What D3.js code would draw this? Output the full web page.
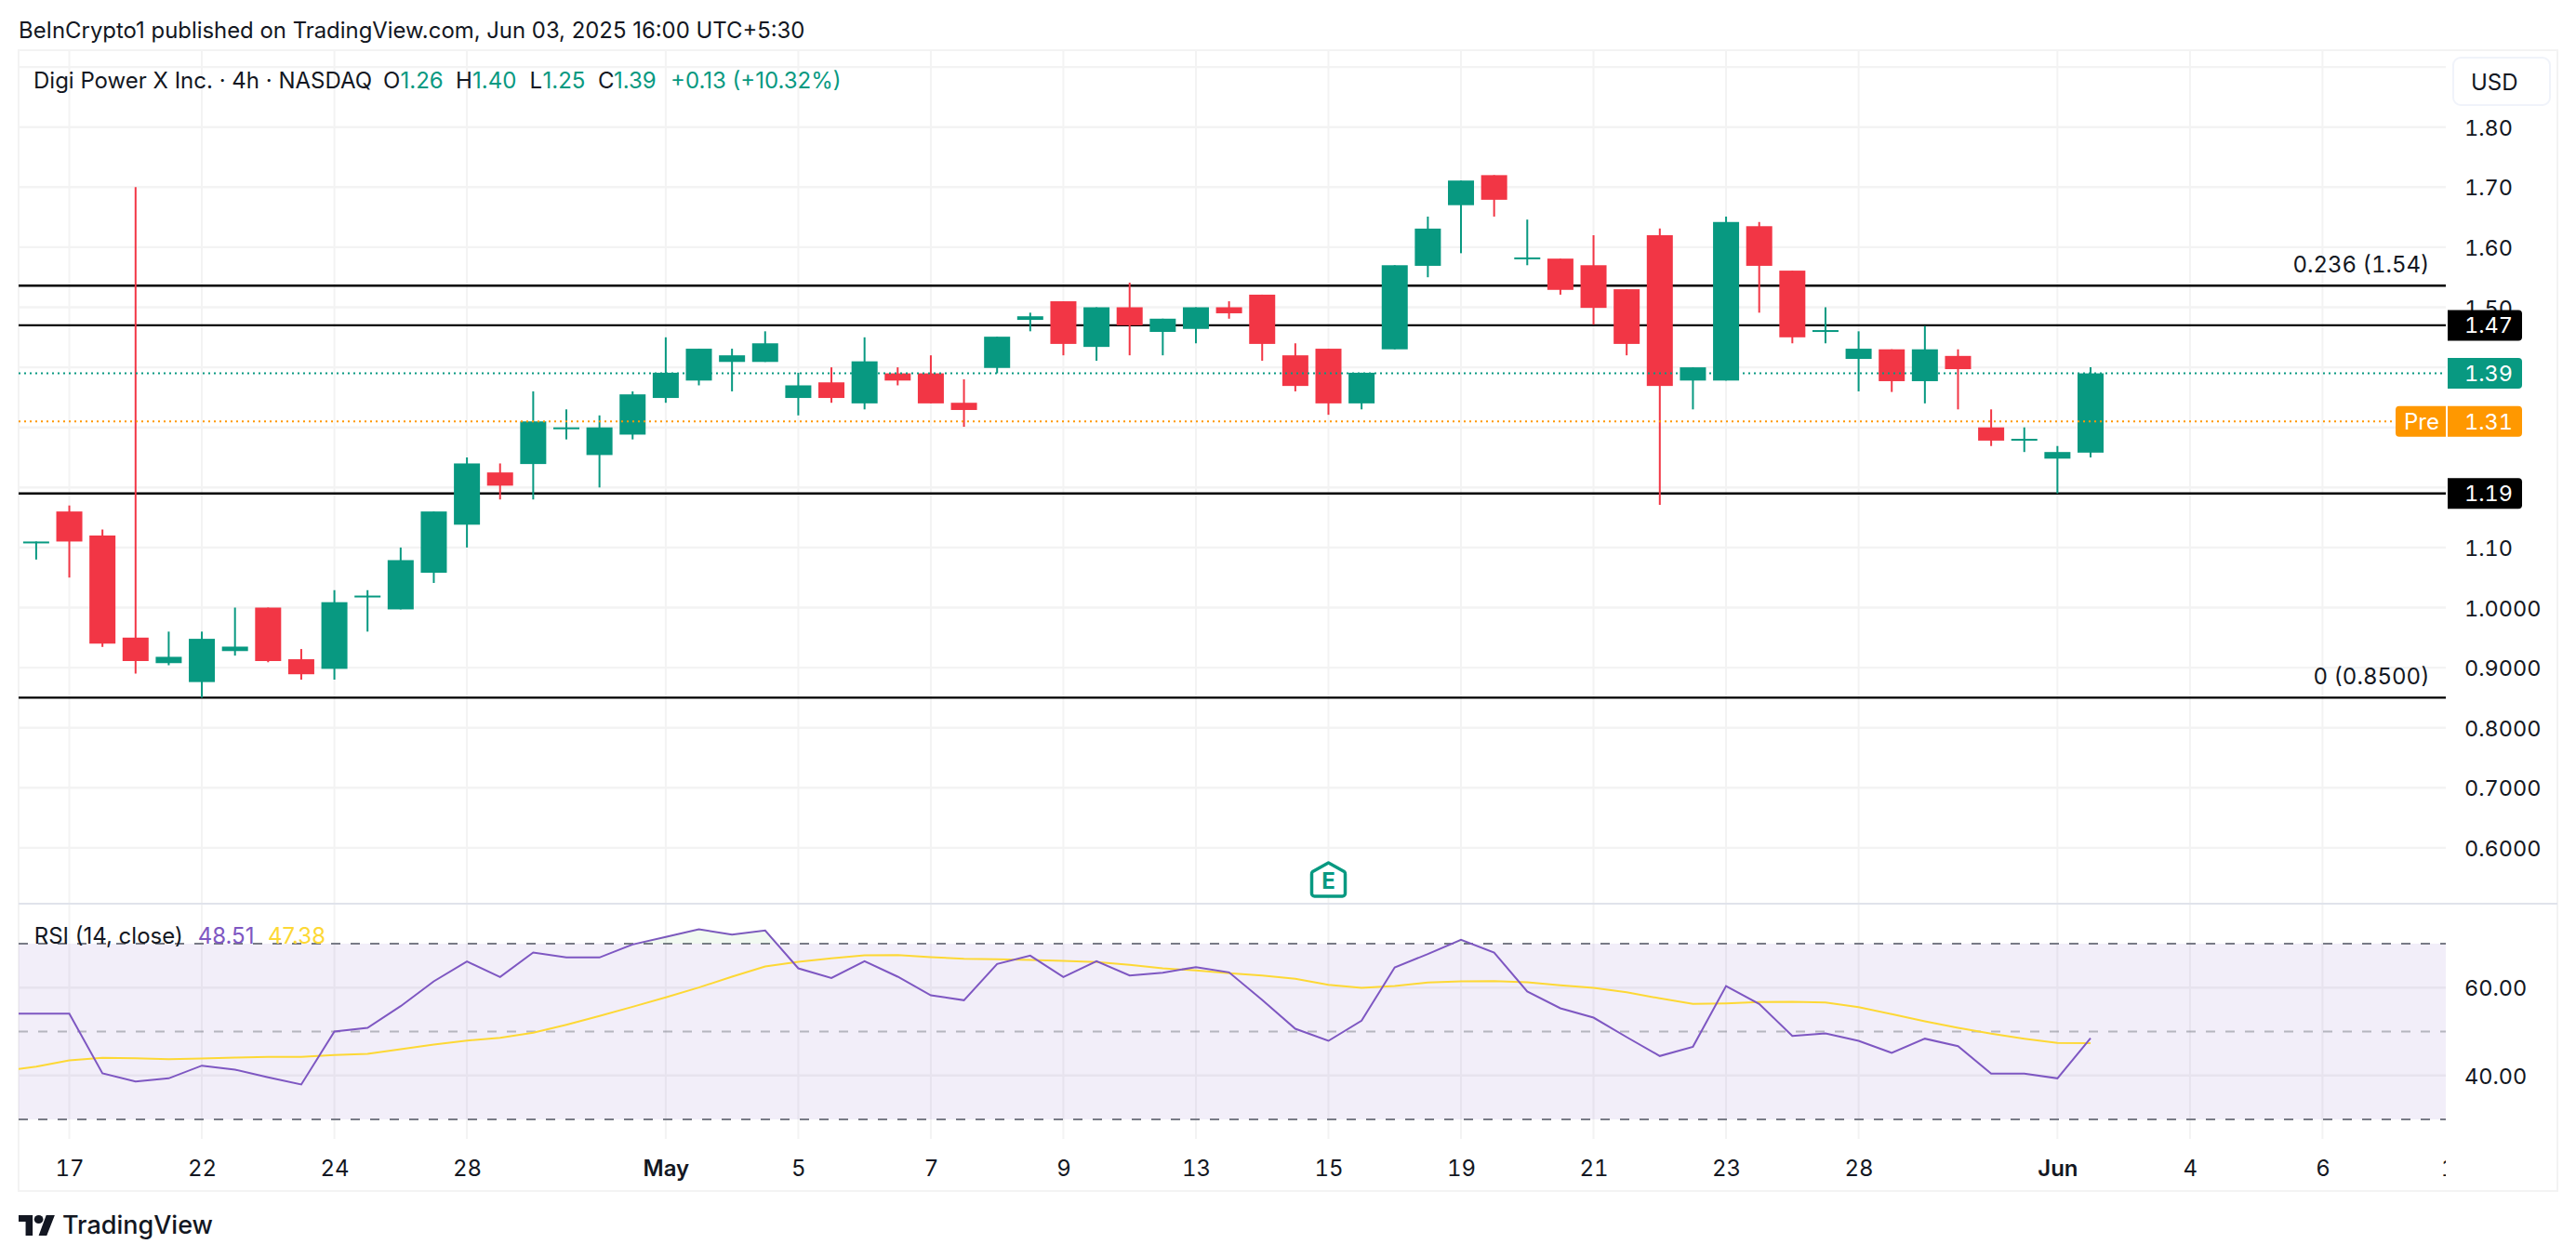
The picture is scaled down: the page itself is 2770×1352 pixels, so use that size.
<!DOCTYPE html>
<html><head><meta charset="utf-8">
<script src="https://cdnjs.cloudflare.com/ajax/libs/d3/7.8.5/d3.min.js"></script>
<style>
html,body{margin:0;padding:0;background:#fff}
svg{display:block}
text{font-family:Inter,"Noto Sans",sans-serif;fill:#131722}
.ax path,.ax line{display:none}
.ax text,.tn{font-variant-numeric:tabular-nums}
</style></head><body>
<svg id="c" width="2770" height="1352"></svg>
<script>
const opens=[1.108,1.16,1.12,0.95,0.9075,0.876,0.9276,1.0,0.914,0.898,1.019,0.997,1.058,1.138,1.225,1.239,1.299,1.254,1.288,1.349,1.378,1.409,1.409,1.349,1.375,1.34,1.39,1.39,1.341,1.399,1.479,1.51,1.434,1.50,1.459,1.464,1.50,1.521,1.42,1.431,1.34,1.43,1.569,1.67,1.72,1.58,1.581,1.57,1.53,1.62,1.378,1.378,1.635,1.561,1.459,1.414,1.43,1.377,1.419,1.30,1.279,1.248,1.258];
const highs=[1.11,1.17,1.13,1.70,0.96,0.96,1.0,1.0,0.931,1.029,1.029,1.10,1.16,1.25,1.24,1.36,1.33,1.32,1.36,1.45,1.431,1.431,1.46,1.391,1.40,1.45,1.40,1.42,1.38,1.451,1.491,1.51,1.50,1.541,1.481,1.50,1.51,1.521,1.44,1.431,1.391,1.57,1.651,1.711,1.72,1.646,1.581,1.62,1.53,1.631,1.40,1.651,1.642,1.561,1.50,1.46,1.43,1.469,1.43,1.33,1.30,1.269,1.40];
const lows=[1.08,1.05,0.9345,0.89,0.904,0.85,0.92,0.909,0.88,0.88,0.96,0.997,1.041,1.10,1.18,1.18,1.28,1.20,1.28,1.341,1.37,1.36,1.409,1.32,1.341,1.33,1.37,1.34,1.301,1.39,1.46,1.42,1.411,1.42,1.42,1.44,1.481,1.411,1.36,1.321,1.33,1.43,1.55,1.59,1.651,1.57,1.521,1.471,1.42,1.171,1.33,1.378,1.491,1.44,1.44,1.36,1.359,1.34,1.33,1.269,1.259,1.19,1.25];
const closes=[1.11,1.11,0.94,0.911,0.918,0.948,0.935,0.911,0.889,1.009,1.02,1.079,1.16,1.24,1.203,1.31,1.30,1.30,1.355,1.391,1.431,1.42,1.44,1.37,1.349,1.41,1.378,1.34,1.329,1.451,1.485,1.439,1.50,1.47,1.481,1.50,1.49,1.439,1.369,1.34,1.391,1.57,1.631,1.711,1.679,1.583,1.529,1.499,1.439,1.369,1.40,1.642,1.569,1.45,1.462,1.431,1.377,1.43,1.397,1.278,1.281,1.259,1.39];
// RSI values start one bar before the first visible candle
const rsiValues=[54.09,54.09,54.09,40.48,38.64,39.35,42.24,41.32,39.56,37.94,50,50.85,55.78,61.43,65.94,62.42,67.99,66.86,66.86,69.82,71.52,73.28,72.08,73.0,64.39,62.2,66.01,62.49,58.25,57.13,65.38,67.28,62.42,66.01,62.77,63.4,64.67,63.47,57.2,50.63,47.88,52.47,64.6,67.64,70.88,67.99,59.1,55.29,53.17,48.73,44.43,46.54,60.37,56.28,49.01,49.58,47.88,45.13,48.38,46.68,40.41,40.41,39.35,48.51];
const rsiMaValues=[40.97,42.03,43.44,44.0,43.93,43.72,43.86,44.07,44.22,44.22,44.64,44.92,45.98,47.04,47.95,48.59,49.72,51.55,53.53,55.64,57.76,60.02,62.49,64.81,65.87,66.65,67.35,67.42,66.93,66.58,66.44,66.3,66.08,65.8,65.17,64.39,63.9,63.26,62.77,61.99,60.65,59.95,60.37,61.15,61.43,61.5,61.22,60.51,59.95,58.96,57.55,56.28,56.42,56.7,56.77,56.63,55.57,53.95,52.33,50.85,49.51,48.38,47.39,47.38];
const priceTicks=[1.8,1.7,1.6,1.5,1.1,1.0,0.9,0.8,0.7,0.6];
const priceTickLabels=["1.80","1.70","1.60","1.50","1.10","1.0000","0.9000","0.8000","0.7000","0.6000"];
const priceGrid=[1.9,1.8,1.7,1.6,1.5,1.4,1.3,1.2,1.1,1.0,0.9,0.8,0.7,0.6];
const visibleDateBars=[1,5,9,13,19,23,27,31,35,39,43,47,51,55,61,65,69,73];
const dateLabels=["17","22","24","28","May","5","7","9","13","15","19","21","23","28","Jun","4","6","10"];
const boldDates=["May","Jun"];
const rsiTicks=[60,40];
const rsiTickLabels=["60.00","40.00"];
const horizontalLevels=[1.536,1.47,1.19,0.85];
const fibLabels=[{v:1.536,t:"0.236 (1.54)"},{v:0.85,t:"0 (0.8500)"}];
const lastPrice=1.39, prePrice=1.31, earningsBar=39;

const GREEN="#089981",RED="#F23645",ORANGE="#FF9800",PURPLE="#7E57C2",YEL="#FDD835",GRID="#f3f3f3",FRAME="#f3f3f3";
const L=20,R=2630,OUTR=2750,T=54,PANEB=972,RSIB=1225,B=1281;
const svg=d3.select("#c");
const x=d3.scaleLinear().domain([0,62]).range([38.9,2248]);
const y=d3.scaleLinear().domain([1,1.8]).range([653.5,136.7]);
const yR=d3.scaleLinear().domain([30,70]).range([1204,1015]);
const defs=svg.append("defs");
defs.append("clipPath").attr("id","plot").append("rect").attr("x",L).attr("y",T).attr("width",R-L).attr("height",RSIB-T);
defs.append("clipPath").attr("id","over").append("rect").attr("x",L).attr("y",T).attr("width",R-L).attr("height",yR(70)-T);
defs.append("clipPath").attr("id","timeclip").append("rect").attr("x",L).attr("y",RSIB).attr("width",R-L).attr("height",B-RSIB);

svg.append("text").attr("x",20).attr("y",32).attr("dominant-baseline","central").attr("font-size",23.9)
 .text("BeInCrypto1 published on TradingView.com, Jun 03, 2025 16:00 UTC+5:30");

// frame
svg.append("rect").attr("x",L).attr("y",T).attr("width",OUTR-L).attr("height",B-T).attr("fill","none").attr("stroke",FRAME).attr("stroke-width",2);

// grid
const g=svg.append("g").attr("clip-path","url(#plot)");
g.selectAll(".vg").data(visibleDateBars).join("line").attr("x1",d=>x(d)).attr("x2",d=>x(d)).attr("y1",T).attr("y2",RSIB).attr("stroke",GRID).attr("stroke-width",2);
g.selectAll(".hg").data(priceGrid).join("line").attr("x1",L).attr("x2",R).attr("y1",d=>y(d)).attr("y2",d=>y(d)).attr("stroke",GRID).attr("stroke-width",2.4);

// RSI pane
svg.append("line").attr("x1",L).attr("x2",OUTR).attr("y1",PANEB).attr("y2",PANEB).attr("stroke","#e0e3eb").attr("stroke-width",2);
g.selectAll(".rg").data(rsiTicks).join("line").attr("x1",L).attr("x2",R).attr("y1",d=>yR(d)).attr("y2",d=>yR(d)).attr("stroke",GRID).attr("stroke-width",2.4);
g.append("rect").attr("x",L).attr("width",R-L).attr("y",yR(70)).attr("height",yR(30)-yR(70)).attr("fill",PURPLE).attr("fill-opacity",0.1);
[[70,"#787b86"],[30,"#787b86"],[50,"rgba(120,123,134,.5)"]].forEach(([v,c])=>{
 g.append("line").attr("x1",L).attr("x2",R).attr("y1",yR(v)).attr("y2",yR(v)).attr("stroke",c).attr("stroke-width",2).attr("stroke-dasharray","10 11");
});
const xR=(d,i)=>x(i-1);
svg.append("path").attr("clip-path","url(#over)").datum(rsiValues)
 .attr("d",d3.area().x(xR).y0(yR(70)).y1(d=>yR(d))).attr("fill","#4caf50").attr("fill-opacity",0.08);
g.append("path").datum(rsiMaValues).attr("d",d3.line().x(xR).y(d=>yR(d))).attr("fill","none").attr("stroke",YEL).attr("stroke-width",2);
g.append("path").datum(rsiValues).attr("d",d3.line().x(xR).y(d=>yR(d))).attr("fill","none").attr("stroke",PURPLE).attr("stroke-width",2);

// horizontal levels behind candles
g.selectAll(".lv").data(horizontalLevels).join("line").attr("x1",L).attr("x2",R).attr("y1",d=>y(d)).attr("y2",d=>y(d)).attr("stroke","#000").attr("stroke-width",2.4);

// candles
const bars=d3.range(opens.length).map(i=>({i,o:opens[i],h:highs[i],l:lows[i],c:closes[i]}));
const col=d=>d.c>=d.o?GREEN:RED;
const bw=28;
const cg=g.append("g");
cg.selectAll(".w").data(bars).join("line").attr("x1",d=>x(d.i)).attr("x2",d=>x(d.i)).attr("y1",d=>y(d.h)).attr("y2",d=>y(d.l)).attr("stroke",col).attr("stroke-width",2);
cg.selectAll(".b").data(bars).join("rect").attr("x",d=>x(d.i)-bw/2).attr("width",bw)
 .attr("y",d=>y(Math.max(d.o,d.c))).attr("height",d=>Math.max(2,Math.abs(y(d.o)-y(d.c)))).attr("fill",col);

// dotted price lines
g.append("line").attr("x1",L).attr("x2",R-4).attr("y1",y(lastPrice)).attr("y2",y(lastPrice)).attr("stroke",GREEN).attr("stroke-width",2).attr("stroke-dasharray","2 4");
g.append("line").attr("x1",L).attr("x2",R-54).attr("y1",y(prePrice)).attr("y2",y(prePrice)).attr("stroke",ORANGE).attr("stroke-width",2).attr("stroke-dasharray","2 4");

// price axis
const ya=svg.append("g").attr("class","ax").attr("transform",`translate(${R+20},0)`)
 .call(d3.axisRight(y).tickValues(priceTicks).tickSize(0).tickPadding(0).tickFormat((d,i)=>priceTickLabels[i]));
ya.selectAll("text").attr("font-size",23.5).attr("dy",null).attr("dominant-baseline","central").attr("x",0);
const ra=svg.append("g").attr("class","ax").attr("transform",`translate(${R+20},0)`)
 .call(d3.axisRight(yR).tickValues(rsiTicks).tickSize(0).tickPadding(0).tickFormat((d,i)=>rsiTickLabels[i]));
ra.selectAll("text").attr("font-size",23.5).attr("dy",null).attr("dominant-baseline","central").attr("x",0);

// USD button
svg.append("rect").attr("x",2638).attr("y",62).attr("width",104).attr("height",51).attr("rx",8).attr("fill","#fff").attr("stroke","#f0f3fa").attr("stroke-width",2);
svg.append("text").attr("x",2657).attr("y",88).attr("dominant-baseline","central").attr("font-size",24).text("USD");

// value boxes
function box(v,t,fill){
 const cy=y(v);
 svg.append("path").attr("d",`M2632 ${cy-16.5}H2708a4 4 0 0 1 4 4V${cy+12.5}a4 4 0 0 1 -4 4H2632Z`).attr("fill",fill);
 svg.append("text").attr("class","tn").attr("x",2650).attr("y",cy).attr("dominant-baseline","central").attr("font-size",23.5).style("fill","#fff").text(t);
}
box(1.47,"1.47","#000");
box(lastPrice,"1.39",GREEN);
box(prePrice,"1.31",ORANGE);
box(1.19,"1.19","#000");
const py=y(prePrice);
svg.append("path").attr("d",`M2630 ${py-16.5}H2580a4 4 0 0 0 -4 4V${py+12.5}a4 4 0 0 0 4 4H2630Z`).attr("fill",ORANGE);
svg.append("text").attr("x",2585).attr("y",py).attr("dominant-baseline","central").attr("font-size",24).style("fill","#fff").text("Pre");

// fib labels
svg.selectAll(".fib").data(fibLabels).join("text").attr("class","tn").attr("x",2612.5).attr("y",d=>y(d.v)-23).attr("text-anchor","end").attr("dominant-baseline","central").attr("font-size",24).text(d=>d.t);

// time axis
const ta=svg.append("g").attr("class","ax").attr("clip-path","url(#timeclip)");
const tin=ta.append("g").attr("transform","translate(0,1256)").call(d3.axisBottom(x).tickValues(visibleDateBars).tickSize(0).tickPadding(0).tickFormat((d,i)=>dateLabels[i]));
tin.selectAll("text").attr("font-size",24).attr("y",0).attr("dy",null).attr("dominant-baseline","central")
 .attr("font-weight",function(){return boldDates.includes(this.textContent)?600:400});

// legend
function runs(yy,items){items.forEach(([xx,t,c])=>{const e=svg.append("text").attr("x",xx).attr("y",yy).attr("dominant-baseline","central").attr("font-size",24).text(t);if(c)e.style("fill",c);});}
runs(86,[[36,"Digi Power X Inc. · 4h · NASDAQ"],[412,"O"],[430.5,"1.26",GREEN],[490,"H"],[508,"1.40",GREEN],[569.5,"L"],[583.5,"1.25",GREEN],[643,"C"],[660,"1.39",GREEN],[721,"+0.13 (+10.32%)",GREEN]]);
runs(1006,[[36.7,"RSI (14, close)"],[212.7,"48.51",PURPLE],[288,"47.38",YEL]]);

// earnings marker
const ex=x(earningsBar);
svg.append("path").attr("d",`M${ex} 928L${ex+17} 937.5a3 3 0 0 1 1 2.5V961a3 3 0 0 1 -3 3H${ex-15}a3 3 0 0 1 -3 -3V940a3 3 0 0 1 1 -2.5Z`).attr("fill","#fff").attr("stroke",GREEN).attr("stroke-width",3.5).attr("stroke-linejoin","round");
svg.append("text").attr("x",ex).attr("y",947.5).attr("text-anchor","middle").attr("dominant-baseline","central").attr("font-size",24).attr("font-weight",700).style("fill",GREEN).text("E");

// logo
const lg=svg.append("g").attr("transform","translate(20,1304) scale(1.08,1.0)");
lg.append("path").attr("d","M14 25H7V10H0V3h14v22zM28 25h-8L27.5 3H36L28 25z").attr("fill","#131722");
lg.append("circle").attr("cx",20).attr("cy",7.5).attr("r",4.5).attr("fill","#131722");
svg.append("text").attr("x",67).attr("y",1317).attr("dominant-baseline","central").attr("font-size",27).attr("font-weight",500).text("TradingView");
</script>
</body></html>
